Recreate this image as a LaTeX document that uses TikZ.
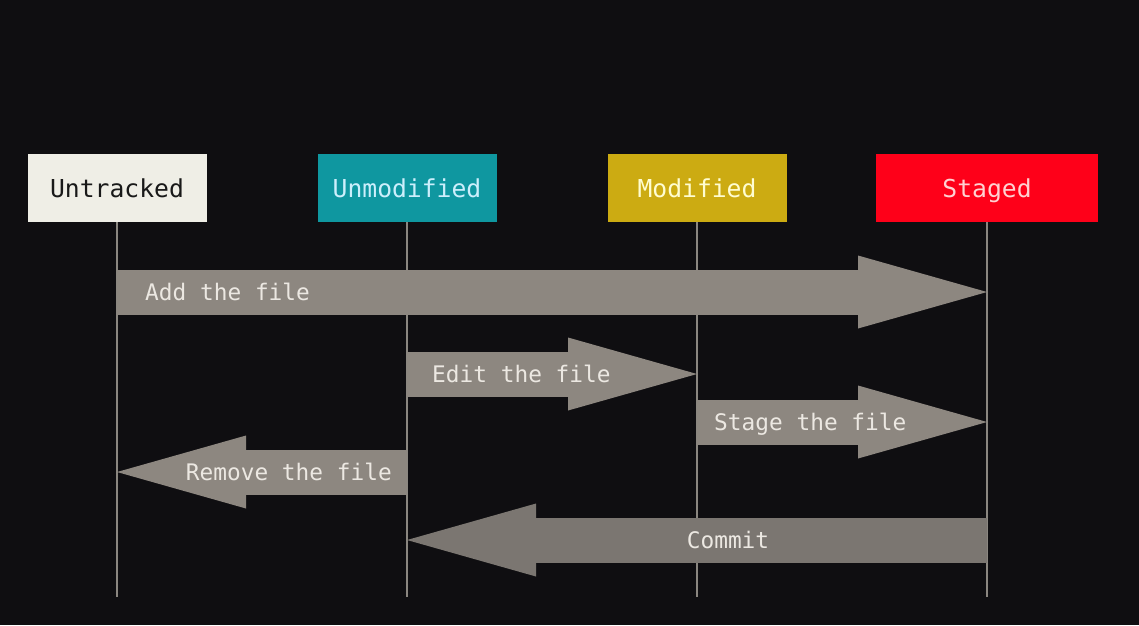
\documentclass[tikz,border=0pt]{standalone}
\usepackage{fontspec}
\newfontfamily\statefont{DejaVu Sans Mono}
\usetikzlibrary{arrows.meta,positioning,shapes}
\usepackage{xcolor}

\definecolor{screen}{HTML}{0F0E11}
\definecolor{lifegray}{HTML}{8A8680}
\definecolor{flowgray}{HTML}{8D8780}
\definecolor{commitgray}{HTML}{7B7671}
\definecolor{flowtxt}{HTML}{ECE8E2}
\definecolor{untrackedbg}{HTML}{EFEEE6}
\definecolor{unmodifiedbg}{HTML}{0F97A0}
\definecolor{modifiedbg}{HTML}{CCAB12}
\definecolor{stagedbg}{HTML}{FE0019}

\begin{document}
\begin{tikzpicture}[x=1pt, y=-1pt,
    state/.style={
        rectangle,
        inner sep=0pt,
        minimum width=179pt,
        minimum height=68pt,
        text height=18.6pt,
        text depth=0pt,
        font=\statefont\fontsize{24.7}{30}\selectfont
    },
    flowtext/.style={
        inner sep=0pt,
        text=flowtxt,
        text height=17.2pt,
        text depth=0pt,
        font=\statefont\fontsize{22.8}{28}\selectfont
    },
    lifeline/.style={draw=lifegray, line width=2pt},
    flow/.style={
        draw=flowgray,
        line width=45pt,
        -{Triangle[length=129pt, width=73pt, line width=0pt]}
    }
]
    \fill[screen] (0,0) rectangle (1139,625);

    \node (untracked) [state, fill=untrackedbg, text=black!90, shift={(117, 188)}]
    {
        Untracked
    };
    \node (unmodified) [state, fill=unmodifiedbg, text=cyan!20, shift={(407, 188)}]
    {
        Unmodified
    };
    \node (modified) [state, fill=modifiedbg, text=yellow!18, shift={(697, 188)}]
    {
        Modified
    };
    \node (staged) [state, fill=stagedbg, text=red!18, minimum width=222pt, shift={(987, 188)}]
    {
        Staged
    };

    \coordinate (untracked_end) at (untracked |- 0,597);
    \coordinate (unmodified_end) at (unmodified |- 0,597);
    \coordinate (modified_end) at (modified |- 0,597);
    \coordinate (staged_end) at (staged |- 0,597);

    \draw[lifeline] (untracked) to (untracked_end);
    \draw[lifeline] (unmodified) to (unmodified_end);
    \draw[lifeline] (modified) to (modified_end);
    \draw[lifeline] (staged) to (staged_end);

    \coordinate (untracked_add) at (untracked |- 0,292);
    \coordinate (staged_add) at (staged |- 0,292);
    \coordinate (unmodified_edit) at (unmodified |- 0,374);
    \coordinate (modified_edit) at (modified |- 0,374);
    \coordinate (modified_stage) at (modified |- 0,422);
    \coordinate (staged_stage) at (staged |- 0,422);
    \coordinate (unmodified_remove) at (unmodified |- 0,472);
    \coordinate (untracked_remove) at (untracked |- 0,472);
    \coordinate (staged_commit) at (staged |- 0,540);
    \coordinate (unmodified_commit) at (unmodified |- 0,540);

    \draw[flow] (untracked_add) to (staged_add);
    \draw[flow] (unmodified_edit) to (modified_edit);
    \draw[flow] (modified_stage) to (staged_stage);
    \draw[flow] (unmodified_remove) to (untracked_remove);
    \draw[flow, draw=commitgray] (staged_commit) to (unmodified_commit);

    \node (add_txt) [flowtext, anchor=west, shift={(145, 292)}] {Add the file};
    \node (edit_txt) [flowtext, anchor=west, shift={(432, 374)}] {Edit the file};
    \node (stage_txt) [flowtext, anchor=west, shift={(714, 422)}] {Stage the file};
    \node (remove_txt) [flowtext, anchor=east, shift={(392, 472)}] {Remove the file};
    \node (commit_txt) [flowtext, shift={(728, 540)}] {Commit};
\end{tikzpicture}
\end{document}
